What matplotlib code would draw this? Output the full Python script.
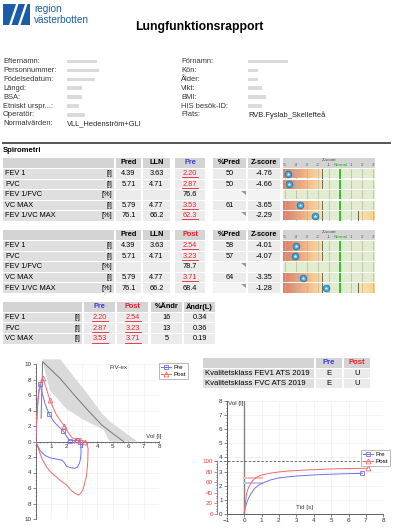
import numpy as np
import matplotlib
matplotlib.use('Agg')
import matplotlib.pyplot as plt
from matplotlib.patches import Rectangle, Polygon
from matplotlib.lines import Line2D

plt.rcParams['font.family'] = ['Liberation Sans', 'DejaVu Sans']

# ---- data ----
info_left = ['Efternamn:', 'Personnummer:', 'Födelsedatum:', 'Längd:', 'BSA:',
             'Etniskt urspr...:', 'Operatör:', 'Normalvärden:']
info_right = ['Förnamn:', 'Kön:', 'Ålder:', 'Vikt:', 'BMI:', 'HIS besök-ID:', 'Plats:']
normal_ref = 'VLL_Hedenström+GLI'
place = 'RVB.Fyslab_Skellefteå'

params = ['FEV 1', 'FVC', 'FEV 1/FVC', 'VC MAX', 'FEV 1/VC MAX']
units = ['[l]', '[l]', '[%]', '[l]', '[%]']
pred = ['4.39', '5.71', '', '5.79', '76.1']
lln = ['3.63', '4.71', '', '4.77', '66.2']
pre = ['2.20', '2.87', '76.6', '3.53', '62.3']
pre_low = [True, True, False, True, True]
pre_pct = ['50', '50', '', '61', '']
pre_z = [-4.76, -4.66, None, -3.65, -2.29]
post = ['2.54', '3.23', '78.7', '3.71', '68.4']
post_low = [True, True, False, True, False]
post_pct = ['58', '57', '', '64', '']
post_z = [-4.01, -4.07, None, -3.35, -1.28]

chg_params = ['FEV 1', 'FVC', 'VC MAX']
chg_pct = ['16', '13', '5']
chg_l = ['0.34', '0.36', '0.19']

qual_rows = ['Kvalitetsklass FEV1 ATS 2019', 'Kvalitetsklass FVC ATS 2019']
qual_pre = ['E', 'E']
qual_post = ['U', 'U']

# flow-volume
pre_exp_vol = [0, 0.05, 0.12, 0.2, 0.28, 0.4, 0.6, 0.88, 1.2, 1.5, 1.8, 2.0, 2.2, 2.45, 2.7, 2.87]
pre_exp_flow = [0, 2.0, 4.5, 6.5, 7.4, 6.4, 4.9, 3.5, 2.5, 1.9, 1.33, 0.7, 0.1, 0.12, 0.15, 0.0]
post_exp_vol = [0, 0.05, 0.15, 0.3, 0.45, 0.6, 0.93, 1.3, 1.6, 1.86, 2.1, 2.35, 2.6, 2.9, 3.1, 3.23]
post_exp_flow = [0, 2.5, 5.5, 7.6, 8.15, 7.4, 5.3, 3.6, 2.7, 2.0, 1.2, 0.5, 0.25, 0.15, 0.08, 0.0]
pre_insp_vol = [2.87, 2.93, 2.94, 2.9, 2.83, 2.7, 2.55, 2.3, 2.0, 1.85, 1.69, 1.3, 0.93, 0.6, 0.3, 0.17, 0.05, 0]
pre_insp_flow = [0, -0.5, -1.5, -2.3, -2.85, -3.3, -3.45, -3.4, -3.2, -2.7, -2.4, -2.25, -2.1, -1.8, -1.2, -0.7, -0.2, 0]
post_insp_vol = [3.23, 3.35, 3.4, 3.38, 3.3, 3.15, 3.05, 2.9, 2.77, 2.55, 2.3, 2.0, 1.7, 1.36, 1.0, 0.71, 0.45, 0.28, 0.1, 0]
post_insp_flow = [0, -0.5, -0.9, -2.5, -4.4, -5.6, -6.3, -6.7, -6.9, -6.7, -6.3, -5.6, -5.2, -4.6, -4.0, -3.3, -2.4, -1.55, -0.5, 0]
pred_vol = [0.35, 0.45, 1.58, 2.5, 3.4, 4.3, 5.15, 5.7]
pred_flow = [3.0, 10.3, 8.15, 6.0, 4.0, 2.1, 0.8, 0]
band_hi_vol = [0.45, 1.6, 2.5, 3.3, 4.3, 4.8, 5.7, 6.6]
band_hi = [10.6, 10.6, 8.3, 6.3, 3.6, 2.6, 1.3, 0]
band_lo_vol = [0.45, 0.93, 2.0, 3.1, 4.4, 4.8]
band_lo = [10.3, 6.6, 4.2, 2.8, 1.5, 0]

# volume-time
pre_t = [0, 0.05, 0.15, 0.25, 0.4, 0.6, 0.8, 1.0, 1.5, 2.0, 2.5, 3.0, 4.0, 5.0, 6.0, 6.8]
pre_v = [0, 0.35, 0.8, 1.1, 1.45, 1.8, 2.0, 2.15, 2.4, 2.55, 2.62, 2.68, 2.76, 2.81, 2.85, 2.87]
post_t = [0, 0.05, 0.15, 0.25, 0.4, 0.6, 0.8, 1.0, 1.5, 2.0, 2.5, 3.0, 4.0, 5.0, 6.0, 7.1]
post_v = [0, 0.6, 1.5, 1.85, 2.2, 2.5, 2.65, 2.75, 2.88, 2.97, 3.03, 3.07, 3.13, 3.18, 3.21, 3.23]
pre_fev1 = 2.20
post_fev1 = 2.54
vc_ref = 3.71

# ---- figure ----
W, H = 393, 529
fig = plt.figure(figsize=(W / 100, H / 100), dpi=100)
bg = fig.add_axes([0, 0, 1, 1])
bg.set_xlim(0, W)
bg.set_ylim(H, 0)
bg.axis('off')

BLUE = '#3a3ad8'
RED = '#e8202a'
HDR = '#d4d4d4'
LAB = '#dfdfdf'
VAL = '#ebebeb'
LIGHT = '#f3f3f3'
FS = 5.3


def px_axes(x0, y0, x1, y1):
    return fig.add_axes([x0 / W, 1 - y1 / H, (x1 - x0) / W, (y1 - y0) / H])


def cell(x0, x1, y0, y1, c):
    bg.add_patch(Rectangle((x0, y0), x1 - x0, y1 - y0, fc=c, ec='none'))


def txt(x, y, s, **kw):
    kw.setdefault('fontsize', FS)
    bg.text(x, y, s, va='center', **kw)


def red_val(cx, cy, s):
    txt(cx, cy, s, ha='center', color=RED)
    bg.plot([cx - 8, cx + 8], [cy + 3.6, cy + 3.6], color=RED, lw=0.6)


def corner(x1, y0):
    bg.add_patch(Polygon([(x1 - 5, y0 + 0.5), (x1 - 0.5, y0 + 0.5), (x1 - 0.5, y0 + 5)],
                         fc='#9a9a9a', ec='none'))


# logo + title
bg.add_patch(Rectangle((3, 4), 27, 21, fc='#1a5ca8', ec='none'))
for dx in [6, 15]:
    bg.add_patch(Polygon([(3 + dx, 25), (3 + dx + 2.5, 25), (3 + dx + 9.5, 4), (3 + dx + 7, 4)],
                         fc='white', ec='none'))
bg.text(34, 9.5, 'region', fontsize=7.2, color='#1a5ca8', va='center')
bg.text(34, 20, 'västerbotten', fontsize=7.2, color='#1a5ca8', va='center')
bg.text(199, 27, 'Lungfunktionsrapport', fontsize=8.8, fontweight='bold', ha='center', va='center')

# patient info
blob_w_left = [30, 32, 28, 15, 15, 12, 18]
blob_w_right = [40, 10, 10, 14, 18, 14]
for i, lab in enumerate(info_left):
    y = 61.5 + i * 8.9
    txt(3, y, lab, fontsize=5.4, color='#333333')
    if i < len(blob_w_left):
        bg.add_patch(Rectangle((67, y - 1.8), blob_w_left[i], 3.6, fc='#d2d2d2', ec='none', alpha=0.8))
txt(67, 61.5 + 7 * 8.9, normal_ref, fontsize=5.4, color='#222222')
for i, lab in enumerate(info_right):
    y = 61.5 + i * 8.9
    txt(181, y, lab, fontsize=5.4, color='#333333')
    if i < len(blob_w_right):
        bg.add_patch(Rectangle((248, y - 1.8), blob_w_right[i], 3.6, fc='#d2d2d2', ec='none', alpha=0.8))
txt(248, 61.5 + 6 * 8.9, place, fontsize=5.4, color='#222222')

bg.plot([3, 390], [142.5, 142.5], color='#555555', lw=1.4)
txt(3, 151, 'Spirometri', fontsize=5.6, fontweight='bold')

# z-score graphic helpers
ZL, ZR = -5.18, 3.15
zs = np.linspace(ZL, ZR, 400)
green = np.array([0xe2, 0xec, 0xd0]) / 255


def hexrgb(h):
    return np.array([int(h[i:i + 2], 16) for i in (1, 3, 5)]) / 255


low_stops = [ZL, -3.8, -2.5, -1.64]
low_cols = [hexrgb(c) for c in ['#d6826c', '#eba27f', '#f6c892', '#fbe0a8']]
high_stops = [1.64, ZR]
high_cols = [hexrgb(c) for c in ['#fde6ae', '#f7cf8f']]


def zbar(y0, y1, z, low, high):
    zax = px_axes(283, y0, 375, y1)
    arr = np.tile(green, (len(zs), 1))
    if low:
        m = zs < -1.64
        for ch in range(3):
            arr[m, ch] = np.interp(zs[m], low_stops, [c[ch] for c in low_cols])
    if high:
        m = zs > 1.64
        for ch in range(3):
            arr[m, ch] = np.interp(zs[m], high_stops, [c[ch] for c in high_cols])
    zax.imshow(arr[None, :, :], extent=(ZL, ZR, 0, 1), aspect='auto', interpolation='bilinear')
    for k in range(-5, 4):
        if k != 0:
            zax.axvline(k, color='#b5b5a2', lw=0.5)
    if low:
        zax.axvline(-1.64, color='#6b6b5b', lw=0.7)
    if high:
        zax.axvline(1.64, color='#6b5b4b', lw=0.7)
    zax.axvline(0, color='#1fbf1f', lw=1.3)
    if z is not None:
        zax.scatter([z], [0.5], s=24, c='#3da8d8', edgecolors='#1f6f9f', linewidths=0.5, zorder=5)
        zax.scatter([z], [0.5], marker='*', s=7, c='white', zorder=6, linewidths=0)
    zax.set_xlim(ZL, ZR)
    zax.set_ylim(0, 1)
    zax.axis('off')


def zheader(y0, y1):
    hax = px_axes(283, y0, 375, y1)
    hax.set_facecolor(HDR)
    hax.set_xlim(ZL, ZR)
    hax.set_ylim(0, 1)
    for k in [-5, -4, -3, -2, -1, 1, 2, 3]:
        hax.text(k, 0.3, str(k), fontsize=3.2, ha='center', va='center', color='#555555')
    hax.text(0.05, 0.3, 'Normal', fontsize=3.2, ha='center', va='center', color='#22aa22')
    hax.text(-1, 0.78, 'Z-score', fontsize=3.2, ha='center', va='center', color='#444444')
    hax.set_xticks([])
    hax.set_yticks([])
    for s in hax.spines.values():
        s.set_visible(False)


def spiro_table(top, step, name, ncol, vals, low, pct, zvals):
    h0, h1 = top, top + 10
    for x0, x1, lab, col in [(3, 114, '', 'k'), (116, 141, 'Pred', 'k'), (143, 170, 'LLN', 'k'),
                             (175, 205, name, ncol), (213, 246, '%Pred', 'k'), (248, 280, 'Z-score', 'k')]:
        cell(x0, x1, h0, h1, HDR)
        if lab:
            txt((x0 + x1) / 2, (h0 + h1) / 2, lab, ha='center', fontweight='bold', color=col)
    zheader(h0, h1)
    for i in range(len(params)):
        y0 = top + 11 + i * step
        y1 = y0 + step - 1
        cy = (y0 + y1) / 2
        cell(3, 114, y0, y1, LAB)
        txt(5, cy, params[i])
        txt(112, cy, units[i], ha='right')
        cell(116, 141, y0, y1, VAL)
        txt(128.5, cy, pred[i], ha='center')
        cell(143, 170, y0, y1, VAL)
        txt(156.5, cy, lln[i], ha='center')
        cell(175, 205, y0, y1, VAL)
        if low[i]:
            red_val(190, cy, vals[i])
        else:
            txt(190, cy, vals[i], ha='center')
        ratio = units[i] == '[%]'
        cell(213, 246, y0, y1, LIGHT if ratio else VAL)
        if ratio:
            corner(246, y0)
        txt(229.5, cy, pct[i], ha='center')
        cell(248, 280, y0, y1, LIGHT if zvals[i] is None else VAL)
        if zvals[i] is not None:
            txt(264, cy, '%.2f' % zvals[i], ha='center')
        zbar(y0, y1, zvals[i], zvals[i] is not None, ratio and zvals[i] is not None)


spiro_table(158, 10.5, 'Pre', BLUE, pre, pre_low, pre_pct, pre_z)
spiro_table(230, 10.6, 'Post', RED, post, post_low, post_pct, post_z)

# change table
top = 302
for x0, x1, lab, col in [(3, 82, '', 'k'), (84, 115, 'Pre', BLUE), (117, 148, 'Post', RED),
                         (151, 182, '%Ändr', 'k'), (184, 215, 'Ändr(L)', 'k')]:
    cell(x0, x1, top, top + 9.5, HDR)
    if lab:
        txt((x0 + x1) / 2, top + 4.8, lab, ha='center', fontweight='bold', color=col)
for i, p in enumerate(chg_params):
    y0 = top + 10.5 + i * 10.8
    y1 = y0 + 9.8
    cy = (y0 + y1) / 2
    k = params.index(p)
    cell(3, 82, y0, y1, LAB)
    txt(5, cy, p)
    txt(80, cy, units[k], ha='right')
    cell(84, 115, y0, y1, VAL)
    red_val(99.5, cy, pre[k])
    cell(117, 148, y0, y1, VAL)
    red_val(132.5, cy, post[k])
    cell(151, 182, y0, y1, VAL)
    txt(166.5, cy, chg_pct[i], ha='center')
    cell(184, 215, y0, y1, VAL)
    txt(199.5, cy, chg_l[i], ha='center')

# quality table
top = 358
for x0, x1, lab, col in [(203, 314, '', 'k'), (316, 342, 'Pre', BLUE), (344, 370, 'Post', RED)]:
    cell(x0, x1, top, top + 10, HDR)
    if lab:
        txt((x0 + x1) / 2, top + 5, lab, ha='center', fontweight='bold', color=col, fontsize=5.6)
for i, lab in enumerate(qual_rows):
    y0 = top + 11 + i * 10
    y1 = y0 + 9
    cy = (y0 + y1) / 2
    cell(203, 314, y0, y1, LAB)
    txt(205, cy, lab, fontsize=5.6)
    cell(316, 342, y0, y1, VAL)
    txt(329, cy, qual_pre[i], ha='center', fontsize=5.6)
    cell(344, 370, y0, y1, VAL)
    txt(357, cy, qual_post[i], ha='center', fontsize=5.6)

PRE_C = '#7070ee'
POST_C = '#ee6a6a'

# ---- flow-volume ----
ax = px_axes(35.7, 364, 159, 519)
ax.set_xlim(0, 8)
ax.set_ylim(-10, 10)
ax.fill(np.r_[band_hi_vol, band_lo_vol[::-1]], np.r_[band_hi, band_lo[::-1]],
        color='#dadada', lw=0, clip_on=False, zorder=1)
ax.plot(pred_vol, pred_flow, color='#777777', lw=0.7, zorder=2, clip_on=False)
ax.plot(pre_exp_vol, pre_exp_flow, color=PRE_C, lw=0.7, marker='s', ms=3.5, mfc='none',
        mew=0.6, markevery=[4, 7, 10, 12, 14, 15], zorder=3)
ax.plot(pre_insp_vol, pre_insp_flow, color=PRE_C, lw=0.7, zorder=3)
ax.plot(post_exp_vol, post_exp_flow, color=POST_C, lw=0.7, marker='^', ms=3.5, mfc='none',
        mew=0.6, markevery=[4, 6, 9, 12, 13, 15], zorder=3)
ax.plot(post_insp_vol, post_insp_flow, color=POST_C, lw=0.7, zorder=3)
for s in ['top', 'right']:
    ax.spines[s].set_visible(False)
ax.spines['bottom'].set_position(('data', 0))
for s in ['left', 'bottom']:
    ax.spines[s].set_color('#555555')
    ax.spines[s].set_linewidth(0.6)
ax.set_xticks(range(1, 9))
ax.set_yticks(range(-10, 11, 2))
ax.set_yticklabels([str(abs(v)) for v in range(-10, 11, 2)])
ax.set_xticks(np.arange(0, 8.01, 0.25), minor=True)
ax.set_yticks(np.arange(-10, 10.01, 0.5), minor=True)
ax.tick_params(labelsize=4.5, length=2, width=0.5, colors='#555555', labelcolor='#333333', pad=1)
ax.tick_params(which='minor', length=1, width=0.4, colors='#777777')
ax.tick_params(axis='x', direction='inout')
ax.grid(color='#ececec', lw=0.4, zorder=0)
ax.set_axisbelow(True)
ax.text(5.35, 9.5, 'F/V-ex', fontsize=4.5, ha='center', va='center', color='#333333')
ax.text(7.65, 0.7, 'Vol [l]', fontsize=4.5, ha='center', va='center', color='#333333')
h_pre = Line2D([], [], color=PRE_C, lw=0.7, marker='s', ms=3.5, mfc='none', mew=0.6)
h_post = Line2D([], [], color=POST_C, lw=0.7, marker='^', ms=3.5, mfc='none', mew=0.6)
leg = ax.legend([h_pre, h_post], ['Pre', 'Post'], loc='upper left', bbox_to_anchor=(156 / W, 1 - 360 / H),
                bbox_transform=fig.transFigure, fontsize=4.5, frameon=True, fancybox=False,
                borderpad=0.3, handlelength=1.6, handletextpad=0.4, labelspacing=0.2)
leg.get_frame().set_edgecolor('#888888')
leg.get_frame().set_linewidth(0.5)

# ---- volume-time ----
vt = px_axes(226.7, 400.7, 383.3, 514)
vt.set_xlim(-1, 8)
vt.set_ylim(0, 8)
vt.axvline(0, color='#808080', lw=1.0, zorder=2)
vt.axhline(vc_ref, xmin=-0.075, xmax=1, color='#555555', lw=0.6, ls=(0, (3, 2)), clip_on=False, zorder=2)
vt.plot([0, 1], [pre_fev1, pre_fev1], color='#c4c4f5', lw=1.4, zorder=3)
vt.plot([0, 1], [post_fev1, post_fev1], color='#f5bcbc', lw=1.4, zorder=3)
vt.plot(pre_t, pre_v, color=PRE_C, lw=0.7, marker='s', ms=3.5, mfc='none', mew=0.6,
        markevery=[len(pre_t) - 1], zorder=4)
vt.plot(post_t, post_v, color=POST_C, lw=0.7, marker='^', ms=3.5, mfc='none', mew=0.6,
        markevery=[len(post_t) - 1], zorder=4, clip_on=False)
for s in ['top', 'right']:
    vt.spines[s].set_visible(False)
for s in ['left', 'bottom']:
    vt.spines[s].set_color('#444444')
    vt.spines[s].set_linewidth(0.6)
vt.set_xticks(range(-1, 9))
vt.set_yticks(range(0, 9))
vt.set_yticks(np.arange(0, 8.01, 0.25), minor=True)
vt.tick_params(labelsize=4.5, length=2, width=0.5, colors='#555555', labelcolor='#333333', pad=1)
vt.tick_params(which='minor', length=1, width=0.4)
vt.grid(color='#ececec', lw=0.4, zorder=0)
vt.set_axisbelow(True)
vt.text(-0.92, 7.8, 'Vol [l]', fontsize=4.5, ha='left', va='center', color='#333333')
vt.text(3.45, 0.45, 'Tid [s]', fontsize=4.5, ha='center', va='center', color='#333333')
rv = vt.twinx()
rv.set_ylim(0, 800 / vc_ref)
for s in ['top', 'right', 'bottom']:
    rv.spines[s].set_visible(False)
rv.spines['left'].set_visible(True)
rv.spines['left'].set_position(('outward', 7))
rv.spines['left'].set_color('#e84040')
rv.spines['left'].set_linewidth(0.6)
rv.spines['left'].set_bounds(0, 100)
rv.yaxis.set_ticks_position('left')
rv.set_yticks(range(0, 101, 20))
rv.set_yticks(range(0, 101, 5), minor=True)
rv.tick_params(labelsize=4.5, length=2, width=0.5, colors='#e84040', pad=1)
rv.tick_params(which='minor', length=1, width=0.4)
leg2 = vt.legend([h_pre, h_post], ['Pre', 'Post'], loc='upper left', bbox_to_anchor=(358 / W, 1 - 447 / H),
                 bbox_transform=fig.transFigure, fontsize=4.5, frameon=True, fancybox=False,
                 borderpad=0.3, handlelength=1.6, handletextpad=0.4, labelspacing=0.2)
leg2.get_frame().set_edgecolor('#888888')
leg2.get_frame().set_linewidth(0.5)

fig.savefig('out.png', dpi=100)
